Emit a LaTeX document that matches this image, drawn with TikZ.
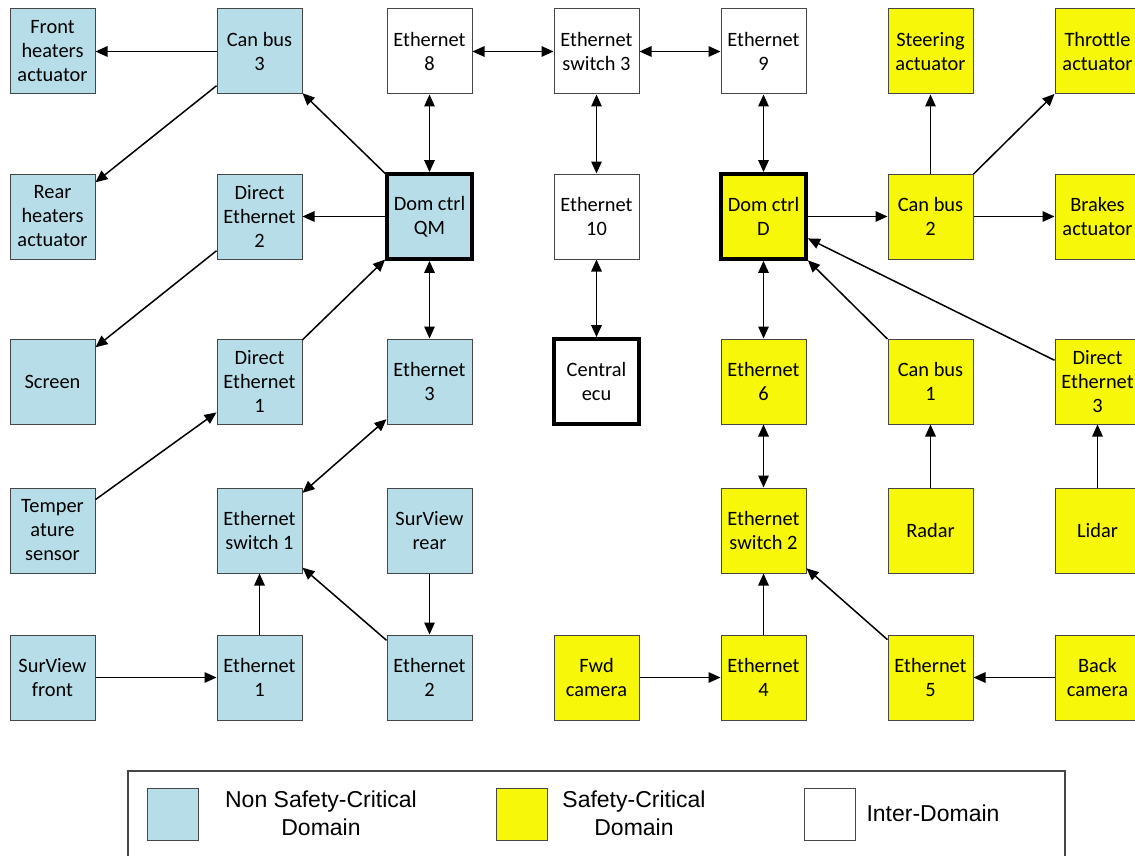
\documentclass[tikz,border=0pt]{standalone}
\usepackage{fontspec}
\setmainfont{Carlito}
\newfontfamily\legfont{Liberation Sans}
\usetikzlibrary{arrows.meta}
\definecolor{ncblue}{RGB}{183,222,232}
\definecolor{scyellow}{RGB}{247,247,10}
\definecolor{edgegray}{RGB}{70,70,70}
\begin{document}
\begin{tikzpicture}[x=1pt,y=-1pt,
  box/.style={draw=edgegray, line width=1pt, minimum width=85pt, minimum height=85pt,
    inner sep=0pt, align=center, font=\fontsize{20.4}{24}\selectfont},
  nb/.style={box, fill=ncblue},
  sb/.style={box, fill=scyellow},
  ib/.style={box, fill=white},
  ctrl/.style={line width=3.8pt, draw=black},
  tip/.tip={Triangle[length=12pt,width=10.5pt]},
  arr/.style={line width=1.5pt, -tip},
  darr/.style={line width=1.5pt, tip-tip},
  swatch/.style={draw=edgegray, line width=1pt, minimum width=51pt, minimum height=52pt, inner sep=0pt},
  legtext/.style={align=center, font=\legfont\fontsize{23}{27.5}\selectfont, inner sep=0pt}
]
\clip (0,0) rectangle (1135,856);
\fill[white] (0,0) rectangle (1135,856);

% row 1
\node[nb] (FH)  at (52.5,51.5)  {Front\\heaters\\actuator};
\node[nb] (CB3) at (259.5,51.5) {Can bus\\3};
\node[ib] (E8)  at (429.5,51.5) {Ethernet\\8};
\node[ib] (ES3) at (596.5,51.5) {Ethernet\\switch 3};
\node[ib] (E9)  at (763.5,51.5) {Ethernet\\9};
\node[sb] (ST)  at (930.5,51.5) {Steering\\actuator};
\node[sb] (TH)  at (1097.5,51.5) {Throttle\\actuator};
% row 2
\node[nb] (RH)  at (52.5,216.5)  {Rear\\heaters\\actuator};
\node[nb] (DE2) at (259.5,216.5) {Direct\\Ethernet\\2};
\node[nb,ctrl] (QM) at (429.5,216.5) {Dom ctrl\\QM};
\node[ib] (E10) at (596.5,216.5) {Ethernet\\10};
\node[sb,ctrl] (DD) at (763.5,216.5) {Dom ctrl\\D};
\node[sb] (CB2) at (930.5,216.5) {Can bus\\2};
\node[sb] (BR)  at (1097.5,216.5) {Brakes\\actuator};
% row 3
\node[nb] (SC)  at (52.5,381.5)  {Screen};
\node[nb] (DE1) at (259.5,381.5) {Direct\\Ethernet\\1};
\node[nb] (E3)  at (429.5,381.5) {Ethernet\\3};
\node[ib,ctrl] (CE) at (596.5,381.5) {Central\\ecu};
\node[sb] (E6)  at (763.5,381.5) {Ethernet\\6};
\node[sb] (CB1) at (930.5,381.5) {Can bus\\1};
\node[sb] (DE3) at (1097.5,381.5) {Direct\\Ethernet\\3};
% row 4
\node[nb] (TS)  at (52.5,530.5)  {Temper\\ature\\sensor};
\node[nb] (ES1) at (259.5,530.5) {Ethernet\\switch 1};
\node[nb] (SVR) at (429.5,530.5) {SurView\\rear};
\node[sb] (ES2) at (763.5,530.5) {Ethernet\\switch 2};
\node[sb] (RA)  at (930.5,530.5) {Radar};
\node[sb] (LI)  at (1097.5,530.5) {Lidar};
% row 5
\node[nb] (SVF) at (52.5,677.5)  {SurView\\front};
\node[nb] (E1)  at (259.5,677.5) {Ethernet\\1};
\node[nb] (E2)  at (429.5,677.5) {Ethernet\\2};
\node[sb] (FC)  at (596.5,677.5) {Fwd\\camera};
\node[sb] (E4)  at (763.5,677.5) {Ethernet\\4};
\node[sb] (E5)  at (930.5,677.5) {Ethernet\\5};
\node[sb] (BC)  at (1097.5,677.5) {Back\\camera};

% connectors
\draw[arr] (CB3) -- (FH);
\draw[arr] (CB3) -- (RH);
\draw[arr] (QM) -- (CB3);
\draw[arr] (QM) -- (DE2);
\draw[arr] (DE2) -- (SC);
\draw[arr] (DE1) -- (QM);
\draw[darr] (QM) -- (E3);
\draw[darr] (E8) -- (QM);
\draw[darr] (E8) -- (ES3);
\draw[darr] (ES3) -- (E9);
\draw[darr] (ES3) -- (E10);
\draw[darr] (E10) -- (CE);
\draw[darr] (E9) -- (DD);
\draw[arr] (DD) -- (CB2);
\draw[arr] (CB2) -- (ST);
\draw[arr] (CB2) -- (TH);
\draw[arr] (CB2) -- (BR);
\draw[darr] (DD) -- (E6);
\draw[arr] (CB1) -- (DD);
\draw[arr] (DE3) -- (DD);
\draw[arr] (TS) -- (DE1);
\draw[darr] (E3) -- (ES1);
\draw[arr] (E1) -- (ES1);
\draw[arr] (E2) -- (ES1);
\draw[arr] (SVR) -- (E2);
\draw[arr] (SVF) -- (E1);
\draw[darr] (E6) -- (ES2);
\draw[arr] (E4) -- (ES2);
\draw[arr] (E5) -- (ES2);
\draw[arr] (FC) -- (E4);
\draw[arr] (BC) -- (E5);
\draw[arr] (RA) -- (CB1);
\draw[arr] (LI) -- (DE3);

% legend
\draw[draw=edgegray, line width=1.5pt] (128,771) rectangle (1065,880);
\node[swatch, fill=ncblue] (LB) at (172.5,814) {};
\node[legtext] (LBT) at (321,813.5) {Non Safety-Critical\\Domain};
\node[swatch, fill=scyellow] (LY) at (521.5,814) {};
\node[legtext] (LYT) at (634,813.5) {Safety-Critical\\Domain};
\node[swatch, fill=white] (LW) at (829.5,814) {};
\node[legtext] (LWT) at (933,813.5) {Inter-Domain};
\end{tikzpicture}
\end{document}
